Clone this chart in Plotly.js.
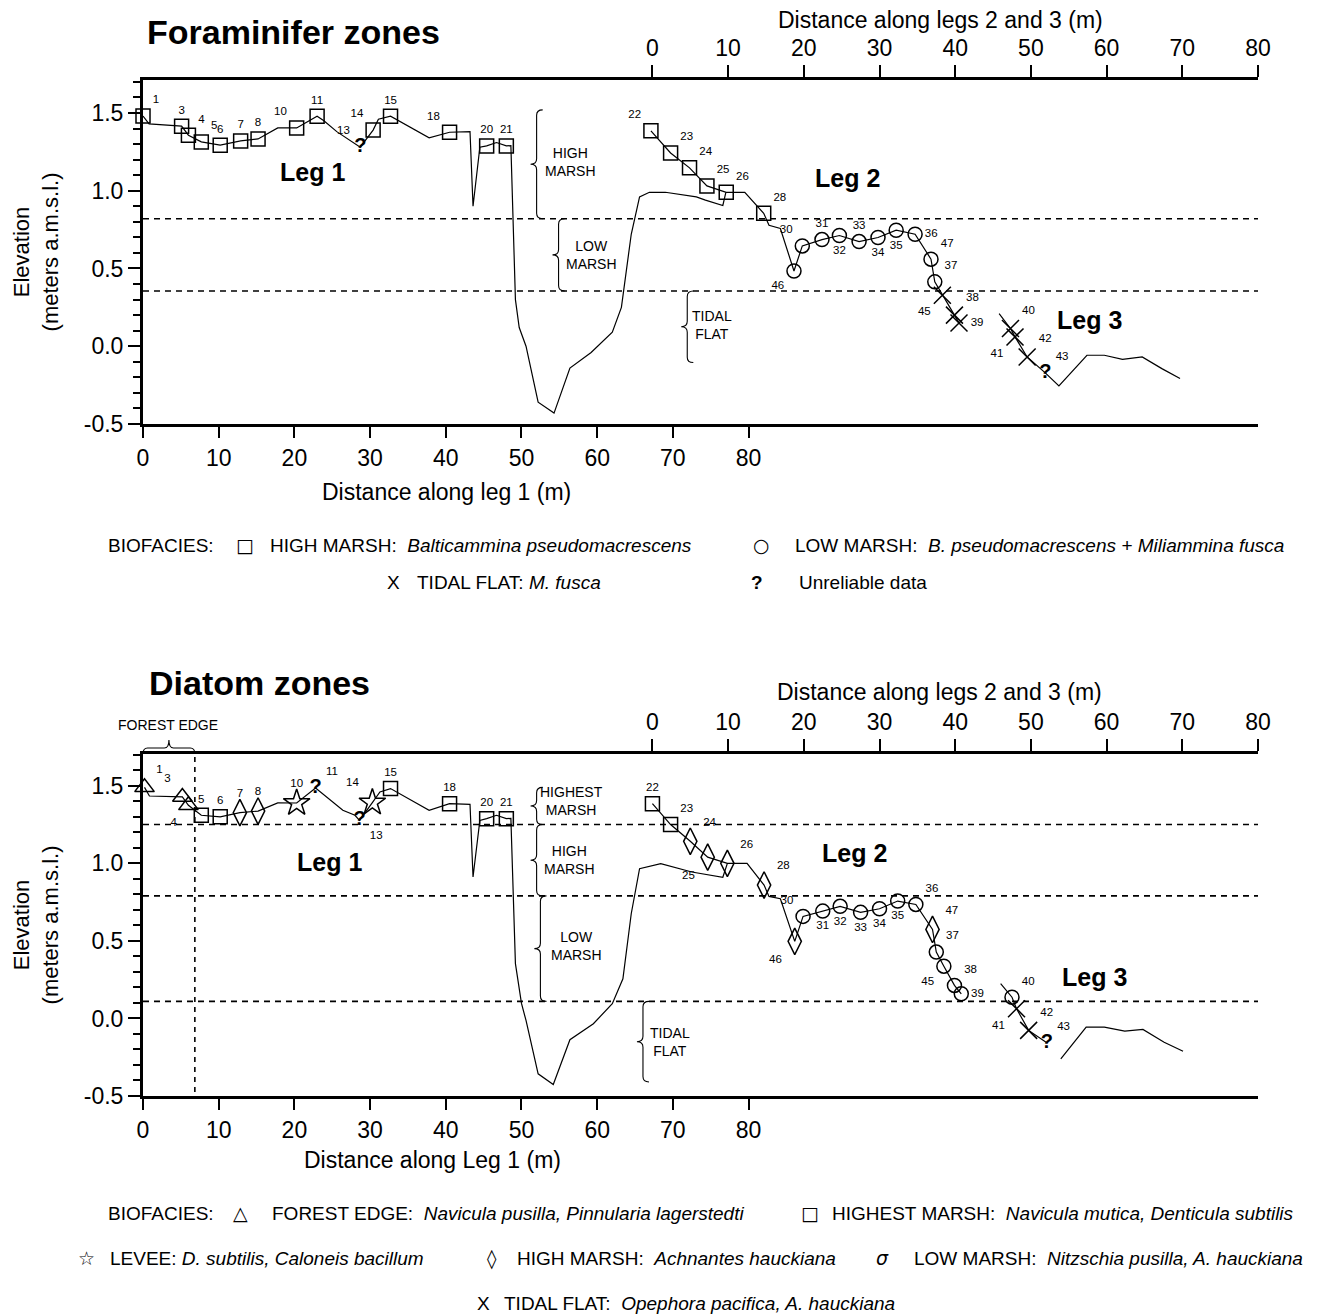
<!DOCTYPE html>
<html><head><meta charset="utf-8">
<script src="https://cdn.plot.ly/plotly-3.0.1.min.js"></script>
<style>body{margin:0;background:#fff}</style>
</head><body>
<div id="chart" style="width:1328px;height:1315px"></div>
<script>
// ---------------- DATA ----------------
// Foraminifer zones: samples along leg 1 (distance along leg 1, m ; elevation m a.m.s.l.)
const foramLeg1Ids   = ['1','3','4','5','6','7','8','10','11','13','14','15','18','20','21'];
const foramLeg1X     = [0.0,5.1,6.0,7.7,10.2,12.9,15.2,20.3,23.0,28.7,30.4,32.7,40.5,45.4,48.0];
const foramLeg1Y     = [1.48,1.415,1.357,1.314,1.293,1.32,1.333,1.404,1.479,1.28,1.39,1.479,1.376,1.288,1.288];
const foramLeg1Zone  = ['high','high','high','high','high','high','high','high','high','unrel','high','high','high','high','high'];
// Foraminifer zones: samples along legs 2 and 3
const foramLeg23Ids  = ['22','23','24','25','26','28','46','30','31','32','33','34','35','36','47','37','45','38','39','40','41','42','43'];
const foramLeg23X    = [-0.2,2.4,4.9,7.2,9.75,14.7,18.7,19.8,22.4,24.7,27.3,29.8,32.2,34.7,36.8,37.3,38.3,39.9,40.5,47.3,47.9,49.5,51.9];
const foramLeg23Y    = [1.385,1.243,1.147,1.031,0.99,0.855,0.484,0.645,0.686,0.712,0.673,0.699,0.746,0.72,0.56,0.414,0.328,0.2,0.15,0.114,0.06,-0.069,-0.171];
const foramLeg23Zone = ['high','high','high','high','high','high','low','low','low','low','low','low','low','low','low','low','tidal','tidal','tidal','tidal','tidal','tidal','unrel'];

// Diatom zones: samples along leg 1
const diatomLeg1Ids  = ['1','3','4','5','6','7','8','10','11','13','14','15','18','20','21'];
const diatomLeg1X    = [0.2,5.2,6.0,7.7,10.2,12.8,15.2,20.3,22.8,28.6,30.3,32.7,40.5,45.4,48.0];
const diatomLeg1Y    = [1.49,1.428,1.374,1.31,1.30,1.327,1.337,1.389,1.485,1.277,1.392,1.482,1.385,1.288,1.288];
const diatomLeg1Zone = ['forest','forest','forest','highest','highest','high','high','levee','unrel','unrel','levee','highest','highest','highest','highest'];
// Diatom zones: samples along legs 2 and 3
const diatomLeg23Ids  = ['22','23','24','25','26','28','46','30','31','32','33','34','35','36','47','37','45','38','39','40','41','42','43'];
const diatomLeg23X    = [0.0,2.4,5.0,7.3,9.9,14.75,18.8,19.9,22.5,24.8,27.5,30.0,32.4,34.8,37.0,37.5,38.5,39.9,40.8,47.5,48.1,49.7,52.1];
const diatomLeg23Y    = [1.385,1.25,1.142,1.04,1.0,0.86,0.497,0.658,0.692,0.723,0.684,0.707,0.757,0.735,0.574,0.428,0.337,0.213,0.159,0.137,0.063,-0.077,-0.157];
const diatomLeg23Zone = ['highest','highest','high','high','high','high','high','low','low','low','low','low','low','low','high','low','low','low','low','low','tidal','tidal','unrel'];

// Surveyed elevation profiles
const foramProfile1X = [0.0,0.8,5.1,6.0,7.7,10.2,12.9,15.2,17.8,20.3,23.0,23.9,25.6,28.7,30.4,31.1,32.7,37.8,40.5,43.2,43.6,44.5,45.4,46.7,48.0,48.6,49.2,49.7,50.6,52.2,54.3,56.4,59.2,62.0,63.2,64.5,65.6,66.9,69.0,73.1,74.3,76.6,77.0];
const foramProfile1Y = [1.48,1.43,1.415,1.357,1.314,1.293,1.32,1.333,1.404,1.404,1.479,1.45,1.38,1.28,1.39,1.46,1.479,1.34,1.376,1.38,0.90,1.28,1.288,1.31,1.288,1.29,0.30,0.12,0.0,-0.36,-0.43,-0.14,-0.04,0.09,0.25,0.72,0.96,0.99,0.99,0.96,0.94,0.905,0.99];
const foramProfile2X = [-0.2,2.4,4.9,7.2,9.75,12.2,14.7,15.4,16.9,18.7,19.8,22.4,24.7,27.3,29.8,32.2,34.7,36.8,37.3,38.3,39.9,40.5];
const foramProfile2Y = [1.385,1.243,1.147,1.031,0.99,0.99,0.855,0.778,0.757,0.484,0.645,0.686,0.712,0.673,0.699,0.746,0.72,0.56,0.414,0.328,0.2,0.15];
const foramProfile3X = [45.8,47.3,47.9,49.5,51.9,53.7,57.4,59.7,62.1,64.7,67.3,69.7];
const foramProfile3Y = [0.21,0.114,0.06,-0.069,-0.171,-0.255,-0.058,-0.058,-0.084,-0.069,-0.144,-0.208];

const diatomProfile1X = [0.2,0.85,5.2,6.0,7.7,10.2,12.8,15.2,17.8,20.3,22.8,25.6,26.4,28.0,28.6,30.3,31.3,32.7,37.8,40.5,43.2,43.6,44.5,45.4,46.7,48.0,48.6,49.2,50.0,50.6,52.2,54.2,56.4,59.5,62.0,63.4,64.5,65.6,68.4,72.5,76.6,77.2];
const diatomProfile1Y = [1.49,1.434,1.428,1.374,1.31,1.30,1.327,1.337,1.39,1.389,1.485,1.374,1.342,1.31,1.277,1.392,1.46,1.482,1.342,1.385,1.38,0.912,1.277,1.288,1.31,1.288,1.29,0.353,0.097,-0.013,-0.357,-0.426,-0.137,-0.034,0.095,0.256,0.675,0.966,0.998,0.944,0.91,1.0];
const diatomProfile2X = [0.0,2.4,5.0,7.3,9.9,12.5,14.75,15.4,16.9,18.8,19.9,22.5,24.8,27.5,30.0,32.4,34.8,37.0,37.5,38.5,39.9,40.8];
const diatomProfile2Y = [1.385,1.25,1.142,1.04,1.0,1.0,0.86,0.787,0.772,0.497,0.658,0.692,0.723,0.684,0.707,0.757,0.735,0.574,0.428,0.337,0.213,0.159];
const diatomProfile3X = [46.0,47.5,48.1,49.7,52.1,null,53.95,57.3,59.7,62.4,64.8,67.6,70.1];
const diatomProfile3Y = [0.224,0.137,0.063,-0.077,-0.157,null,-0.26,-0.056,-0.056,-0.082,-0.071,-0.153,-0.211];

// Zone boundaries (elevation, m)
const foramZoneBounds  = [0.82, 0.355];
const diatomZoneBounds = [1.25, 0.79, 0.11];
const forestEdgeX = 6.85;

// Axis ticks
const leg1TickVals  = [0,10,20,30,40,50,60,70,80];
const leg23TickVals = [0,10,20,30,40,50,60,70,80];
const leg1TopTicks  = [10,20,30,40,50,60];
const elevTickVals  = [-0.5,0,0.5,1,1.5];
const elevTickText  = ['-0.5','0.0','0.5','1.0','1.5'];

// ---------------- LAYOUT GEOMETRY ----------------
const W = 1328, H = 1315, ML = 143, MR = 70;
const PW = W - ML - MR;
const LEG1_RANGE = [0, 147.3];
const LEG23_RANGE = [-67.3, 80];
const FORAM_YR = [-0.5, 1.712];
const DIAT_YR = [-0.5, 1.705];
const py = p => 1 - p / H;            // pixel row -> paper y
const px = p => (p - ML) / PW;        // pixel col -> paper x
const FONT = 'Liberation Sans, Arial, Helvetica, sans-serif';

const minorVals = [];
for (let i = -5; i <= 17; i++) { if (i % 5 !== 0) minorVals.push(i / 10); }

// ---------------- TRACES ----------------
const traces = [];
function profile(xs, ys, xa, ya) {
  traces.push({type:'scatter', mode:'lines', x:xs, y:ys, xaxis:xa, yaxis:ya,
    line:{color:'black', width:1.2}, hoverinfo:'skip', cliponaxis:false, connectgaps:false});
}
const foramStyle = {
  high:{symbol:'square-open', size:14},
  low:{symbol:'circle-open', size:14},
  tidal:{symbol:'x-thin-open', size:17}
};
const diatomStyle = {
  forest:{symbol:'triangle-up-open', size:17},
  highest:{symbol:'square-open', size:14},
  levee:{symbol:'star-open', size:20},
  high:{symbol:'diamond-tall-open', size:19},
  low:{symbol:'circle-open', size:14},
  tidal:{symbol:'x-thin-open', size:17}
};
const labelPos = {
  foram1: {'1':'top right','3':'top center','4':'top right','5':'top right','6':'top center','7':'top center','8':'top center','10':'top left','11':'top center','13':'top left','14':'top left','15':'top center','18':'top left','20':'top center','21':'top center'},
  foram23: {'22':'top left','23':'top right','24':'top right','25':'top right','26':'top right','28':'top right','46':'bottom left','30':'top left','31':'top center','32':'bottom center','33':'top center','34':'bottom center','35':'bottom center','36':'middle right','47':'top right','37':'top right','45':'bottom left','38':'top right','39':'middle right','40':'top right','41':'bottom left','42':'top right','43':'top right'},
  diatom1: {'1':'top right','3':'top left','4':'bottom left','5':'top center','6':'top center','7':'top center','8':'top center','10':'top center','11':'top right','13':'bottom right','14':'top left','15':'top center','18':'top center','20':'top center','21':'top center'},
  diatom23: {'22':'top center','23':'top right','24':'top right','25':'bottom left','26':'top right','28':'top right','46':'bottom left','30':'top left','31':'bottom center','32':'bottom center','33':'bottom center','34':'bottom center','35':'bottom center','36':'top right','47':'top right','37':'top right','45':'bottom left','38':'top right','39':'middle right','40':'top right','41':'bottom left','42':'top right','43':'top right'}
};
function samples(ids, xs, ys, zones, style, pos, xa, ya) {
  const groups = {};
  zones.forEach((z, i) => { (groups[z] = groups[z] || []).push(i); });
  Object.keys(groups).forEach(z => {
    const idx = groups[z];
    const gx = idx.map(i => xs[i]), gy = idx.map(i => ys[i]);
    const gt = idx.map(i => ids[i]), gp = idx.map(i => pos[ids[i]]);
    const st = style[z];
    const marker = st ? {symbol:st.symbol, size:st.size, color:'black', line:{color:'black', width:1.5}}
                      : {symbol:'circle', size:15, color:'rgba(0,0,0,0)'};
    traces.push({type:'scatter', mode:'markers+text', x:gx, y:gy, xaxis:xa, yaxis:ya,
      text:gt, textposition:gp, marker:marker, cliponaxis:false, hoverinfo:'skip',
      textfont:{family:'Liberation Sans Narrow, Liberation Sans, Arial', size:11.5, color:'black'}});
    if (!st) {
      traces.push({type:'scatter', mode:'text', x:gx, y:gy, xaxis:xa, yaxis:ya,
        text:gx.map(() => '<b>?</b>'), textposition:'middle center', cliponaxis:false, hoverinfo:'skip',
        textfont:{family:FONT, size:20, color:'black'}});
    }
  });
}
profile(foramProfile1X, foramProfile1Y, 'x', 'y');
profile(foramProfile2X, foramProfile2Y, 'x2', 'y');
profile(foramProfile3X, foramProfile3Y, 'x2', 'y');
profile(diatomProfile1X, diatomProfile1Y, 'x4', 'y3');
profile(diatomProfile2X, diatomProfile2Y, 'x5', 'y3');
profile(diatomProfile3X, diatomProfile3Y, 'x5', 'y3');
samples(foramLeg1Ids, foramLeg1X, foramLeg1Y, foramLeg1Zone, foramStyle, labelPos.foram1, 'x', 'y');
samples(foramLeg23Ids, foramLeg23X, foramLeg23Y, foramLeg23Zone, foramStyle, labelPos.foram23, 'x2', 'y');
samples(diatomLeg1Ids, diatomLeg1X, diatomLeg1Y, diatomLeg1Zone, diatomStyle, labelPos.diatom1, 'x4', 'y3');
samples(diatomLeg23Ids, diatomLeg23X, diatomLeg23Y, diatomLeg23Zone, diatomStyle, labelPos.diatom23, 'x5', 'y3');

// ---------------- AXES ----------------
const tickFont = {family:FONT, size:23, color:'black'};
function bottomX(anchor) {
  return {domain:[0,1], anchor:anchor, range:LEG1_RANGE, tickmode:'array', tickvals:leg1TickVals,
    ticks:'outside', ticklen:11, tickwidth:2, tickcolor:'black', showline:true, linewidth:3, linecolor:'black',
    showgrid:false, zeroline:false, tickfont:tickFont};
}
function topX(over, anchor) {
  return {overlaying:over, side:'top', anchor:anchor, range:LEG23_RANGE, tickmode:'array', tickvals:leg23TickVals,
    ticks:'outside', ticklen:12, tickwidth:2, tickcolor:'black', showline:true, linewidth:3, linecolor:'black',
    showgrid:false, zeroline:false, tickfont:tickFont};
}
function elevY(dom, range, side, over, anchor, withTitle) {
  const a = {domain:dom, range:range, anchor:anchor, side:side, tickmode:'array', tickvals:elevTickVals, ticktext:elevTickText,
    ticks:'outside', ticklen:12, tickwidth:2, tickcolor:'black', showline:true, linewidth:3, linecolor:'black',
    minor:{tickmode:'array', tickvals:minorVals, ticks:'outside', ticklen:7, tickwidth:2, tickcolor:'black', showgrid:false},
    showgrid:false, zeroline:false, tickfont:tickFont};
  if (over) a.overlaying = over;
  if (withTitle) a.title = {text:'Elevation<br>(meters a.m.s.l.)', font:{family:FONT, size:22, color:'black'}, standoff:20};
  return a;
}
const foramDom = [py(424), py(80)];
const diatDom  = [py(1096), py(754)];

// ---------------- SHAPES ----------------
const shapes = [];
function hDash(y, xa, ya) {
  shapes.push({type:'line', xref:xa, yref:ya, x0:LEG1_RANGE[0], x1:LEG1_RANGE[1], y0:y, y1:y,
    line:{color:'black', width:1.6, dash:'6px,5px'}});
}
foramZoneBounds.forEach(v => hDash(v, 'x', 'y'));
diatomZoneBounds.forEach(v => hDash(v, 'x4', 'y3'));
shapes.push({type:'line', xref:'x4', yref:'y3', x0:forestEdgeX, x1:forestEdgeX, y0:-0.475, y1:DIAT_YR[1],
  line:{color:'black', width:1.6, dash:'5px,5px'}});
function brace(x, y0, y1, xa, ya) {
  const w = 0.8, r = 0.035, ym = (y0 + y1) / 2;
  const p = `M ${x+w},${y1} Q ${x},${y1} ${x},${y1-r} L ${x},${ym+r} Q ${x},${ym} ${x-w},${ym} ` +
            `Q ${x},${ym} ${x},${ym-r} L ${x},${y0+r} Q ${x},${y0} ${x+w},${y0}`;
  shapes.push({type:'path', xref:xa, yref:ya, path:p, line:{color:'black', width:1.1}});
}
// foraminifer zone braces
brace(52.0, foramZoneBounds[0], 1.52, 'x', 'y');
brace(54.9, foramZoneBounds[1], foramZoneBounds[0], 'x', 'y');
brace(4.6, -0.105, foramZoneBounds[1], 'x2', 'y');
// diatom zone braces
brace(52.0, diatomZoneBounds[0], 1.49, 'x4', 'y3');
brace(52.0, diatomZoneBounds[1], diatomZoneBounds[0], 'x4', 'y3');
brace(52.5, diatomZoneBounds[2], diatomZoneBounds[1], 'x4', 'y3');
brace(-1.25, -0.41, diatomZoneBounds[2], 'x5', 'y3');
// forest edge horizontal brace above the diatom plot
(function(){
  const R = LEG1_RANGE[1], x0 = 0, x1 = forestEdgeX / R, xm = (x0 + x1) / 2, rx = 0.6 / R;
  const hgt = 342, yE = 1.0, yB = 1 + 6 / hgt, yT = 1 + 14 / hgt;
  const p = `M ${x0},${yE} Q ${x0},${yB} ${x0+rx},${yB} L ${xm-rx},${yB} Q ${xm},${yB} ${xm},${yT} ` +
            `Q ${xm},${yB} ${xm+rx},${yB} L ${x1-rx},${yB} Q ${x1},${yB} ${x1},${yE}`;
  shapes.push({type:'path', xref:'x4 domain', yref:'y3 domain', path:p, line:{color:'black', width:1.1}});
})();

// ---------------- ANNOTATIONS ----------------
const ann = [];
function txt(o) { ann.push(Object.assign({showarrow:false, xanchor:'center', yanchor:'middle',
  font:{family:FONT, size:23, color:'black'}}, o)); }
const zoneFont = {family:FONT, size:14, color:'black'};
const legFont = {family:FONT, size:25, color:'black'};
// axis titles (x)
txt({text:'Distance along leg 1 (m)', xref:'x', x:40.1, yref:'paper', y:py(492)});
txt({text:'Distance along legs 2 and 3 (m)', xref:'x2', x:38.1, yref:'paper', y:py(20)});
txt({text:'Distance along legs 2 and 3 (m)', xref:'x5', x:37.9, yref:'paper', y:py(692)});
txt({text:'Distance along Leg 1 (m)', xref:'x4', x:38.2, yref:'paper', y:py(1160)});
// subplot title 2
txt({text:'<b>Diatom zones</b>', xref:'paper', x:px(147), xanchor:'left', yref:'paper', y:py(683), font:{family:FONT, size:34, color:'black'}});
// leg labels
txt({text:'<b>Leg 1</b>', xref:'x', x:22.4, yref:'y', y:1.12, font:legFont});
txt({text:'<b>Leg 2</b>', xref:'x2', x:25.8, yref:'y', y:1.08, font:legFont});
txt({text:'<b>Leg 3</b>', xref:'x2', x:57.8, yref:'y', y:0.167, font:legFont});
txt({text:'<b>Leg 1</b>', xref:'x4', x:24.7, yref:'y3', y:1.006, font:legFont});
txt({text:'<b>Leg 2</b>', xref:'x5', x:26.7, yref:'y3', y:1.065, font:legFont});
txt({text:'<b>Leg 3</b>', xref:'x5', x:58.4, yref:'y3', y:0.265, font:legFont});
// zone labels
txt({text:'HIGH<br>MARSH', xref:'x', x:56.5, yref:'y', y:1.187, font:zoneFont});
txt({text:'LOW<br>MARSH', xref:'x', x:59.3, yref:'y', y:0.585, font:zoneFont});
txt({text:'TIDAL<br>FLAT', xref:'x2', x:7.9, yref:'y', y:0.138, font:zoneFont});
txt({text:'HIGHEST<br>MARSH', xref:'x4', x:56.6, yref:'y3', y:1.40, font:zoneFont});
txt({text:'HIGH<br>MARSH', xref:'x4', x:56.4, yref:'y3', y:1.02, font:zoneFont});
txt({text:'LOW<br>MARSH', xref:'x4', x:57.3, yref:'y3', y:0.467, font:zoneFont});
txt({text:'TIDAL<br>FLAT', xref:'x5', x:2.3, yref:'y3', y:-0.15, font:zoneFont});
txt({text:'FOREST EDGE', xref:'x4', x:3.3, yref:'paper', y:py(725), font:zoneFont});
// biofacies keys
const keyFont = {family:FONT, size:19, color:'black'};
const symFont = {family:'DejaVu Sans, sans-serif', size:19, color:'black'};
function key(xp, yp, t, anchor, f) {
  txt({text:t, xref:'paper', x:px(xp), xanchor:anchor || 'left', yref:'paper', y:py(yp), font:f || keyFont});
}
const sp = '\u00a0\u00a0';
key(106, 545, 'BIOFACIES:');
key(245, 545, '□', 'center', symFont);
key(268, 545, 'HIGH MARSH:' + sp + '<i>Balticammina pseudomacrescens</i>');
key(761, 545, '○', 'center', symFont);
key(793, 545, 'LOW MARSH:' + sp + '<i>B. pseudomacrescens + Miliammina fusca</i>');
key(393, 582, 'X', 'center', keyFont);
key(415, 582, 'TIDAL FLAT:\u00a0<i>M. fusca</i>');
key(757, 582, '<b>?</b>', 'center', keyFont);
key(797, 582, 'Unreliable data');

key(106, 1213, 'BIOFACIES:');
key(240, 1213, '△', 'center', symFont);
key(270, 1213, 'FOREST EDGE:' + sp + '<i>Navicula pusilla, Pinnularia lagerstedti</i>');
key(810, 1213, '□', 'center', symFont);
key(830, 1213, 'HIGHEST MARSH:' + sp + '<i>Navicula mutica, Denticula subtilis</i>');
key(86, 1258, '☆', 'center', symFont);
key(108, 1258, 'LEVEE:\u00a0<i>D. subtilis, Caloneis bacillum</i>');
key(492, 1258, '◊', 'center', symFont);
key(515, 1258, 'HIGH MARSH:' + sp + '<i>Achnantes hauckiana</i>');
key(882, 1258, '<i>σ</i>', 'center', symFont);
key(912, 1258, 'LOW MARSH:' + sp + '<i>Nitzschia pusilla, A. hauckiana</i>');
key(484, 1303, 'X', 'center', keyFont);
key(502, 1303, 'TIDAL FLAT:' + sp + '<i>Opephora pacifica, A. hauckiana</i>');

const layout = {
  width:W, height:H, margin:{l:ML, r:MR, t:0, b:0}, paper_bgcolor:'white', plot_bgcolor:'white',
  showlegend:false, font:{family:FONT, color:'black'},
  title:{text:'<b>Foraminifer zones</b>', x:px(147), xref:'paper', xanchor:'left', y:py(32), yref:'container', yanchor:'middle',
    font:{family:FONT, size:34, color:'black'}},
  xaxis: bottomX('y'),
  xaxis2: topX('x', 'y'),
  xaxis3: {overlaying:'x', side:'top', anchor:'y', range:LEG1_RANGE, tickmode:'array', tickvals:leg1TopTicks,
    showticklabels:false, ticks:'outside', ticklen:12, tickwidth:2, tickcolor:'black', showline:false, showgrid:false, zeroline:false},
  yaxis: elevY(foramDom, FORAM_YR, 'left', null, 'x', true),
  yaxis2: elevY(foramDom, FORAM_YR, 'right', 'y', 'x', false),
  xaxis4: bottomX('y3'),
  xaxis5: topX('x4', 'y3'),
  yaxis3: elevY(diatDom, DIAT_YR, 'left', null, 'x4', true),
  yaxis4: elevY(diatDom, DIAT_YR, 'right', 'y3', 'x4', false),
  shapes: shapes,
  annotations: ann
};
Plotly.newPlot('chart', traces, layout, {staticPlot:true, displayModeBar:false});
</script>
</body></html>
